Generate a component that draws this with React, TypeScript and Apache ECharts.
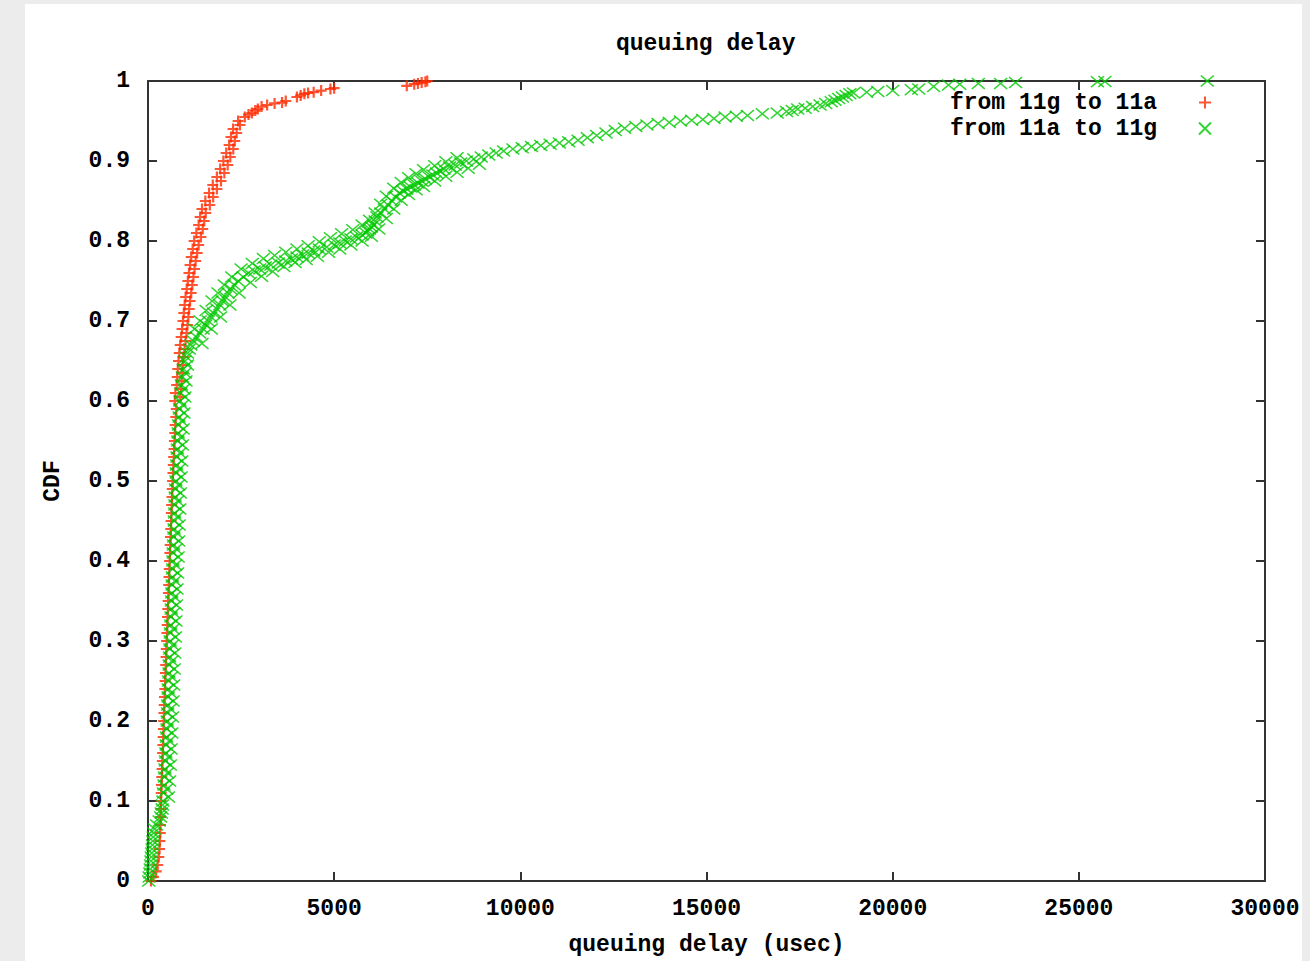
import React, { useEffect, useRef } from "react";
import * as echarts from "echarts";

const xTicks = [0, 5000, 10000, 15000, 20000, 25000, 30000];
const yTicks = [0, 0.1, 0.2, 0.3, 0.4, 0.5, 0.6, 0.7, 0.8, 0.9, 1];

const seriesNames = ["from 11g to 11a", "from 11a to 11g"];

// from 11g to 11a : lower steep part, queuing delay (usec) and CDF
const redDelayLow = [
  80, 150, 220, 260, 290, 310, 320, 330, 335, 340, 345, 350, 355, 362, 370, 378, 385, 392, 400, 407,
  414, 420, 428, 436, 444, 452, 460, 468, 476, 484, 492, 500, 508, 516, 524, 532, 540, 548, 556, 564,
  572, 580, 588, 596, 604, 612, 620, 628, 636, 644, 652, 660, 670, 680, 690, 700, 710, 720, 730, 745,
  760,
];
const redCdfLow = [
  0, 0.005, 0.012, 0.02, 0.03, 0.04, 0.05, 0.06, 0.07, 0.08, 0.09, 0.1, 0.11, 0.12, 0.13, 0.14, 0.15, 0.16, 0.17, 0.18,
  0.19, 0.2, 0.21, 0.22, 0.23, 0.24, 0.25, 0.26, 0.27, 0.28, 0.29, 0.3, 0.31, 0.32, 0.33, 0.34, 0.35, 0.36, 0.37, 0.38,
  0.39, 0.4, 0.41, 0.42, 0.43, 0.44, 0.45, 0.46, 0.47, 0.48, 0.49, 0.5, 0.51, 0.52, 0.53, 0.54, 0.55, 0.56, 0.57, 0.58,
  0.59,
];
// from 11g to 11a : upper band, left column
const redDelayUpA = [
  720, 735, 770, 785, 800, 820, 840, 865, 890, 915, 940, 962, 985, 1010, 1040, 1070, 1100, 1130, 1160, 1200,
  1240, 1300, 1360, 1400, 1450, 1540, 1640, 1740, 1850, 1940, 2025, 2100, 2180, 2230, 2285, 2420,
];
const redCdfUpA = [
  0.6, 0.61, 0.62, 0.63, 0.64, 0.65, 0.66, 0.67, 0.68, 0.69, 0.7, 0.71, 0.72, 0.73, 0.74, 0.75, 0.76, 0.77, 0.78, 0.79,
  0.8, 0.81, 0.82, 0.83, 0.84, 0.85, 0.86, 0.87, 0.88, 0.89, 0.9, 0.91, 0.92, 0.93, 0.94, 0.95,
];
// from 11g to 11a : upper band, right column
const redDelayUpB = [
  870, 885, 905, 920, 935, 950, 985, 1010, 1035, 1060, 1085, 1105, 1130, 1160, 1190, 1220, 1250, 1280, 1320, 1360,
  1420, 1470, 1510, 1550, 1660, 1750, 1850, 1960, 2050, 2140, 2210, 2290, 2330, 2380, 2470,
];
const redCdfUpB = [
  0.605, 0.615, 0.625, 0.635, 0.645, 0.655, 0.665, 0.675, 0.685, 0.695, 0.705, 0.715, 0.725, 0.735, 0.745, 0.755, 0.765, 0.775, 0.785, 0.795,
  0.805, 0.815, 0.825, 0.835, 0.845, 0.855, 0.865, 0.875, 0.885, 0.895, 0.905, 0.915, 0.925, 0.935, 0.945,
];
// from 11g to 11a : tail
const redDelayTail = [
  2600, 2700, 2790, 2880, 2950, 3050, 3200, 3400, 3600, 3700, 4000, 4100, 4200, 4300, 4450, 4650, 4900, 5000, 6950, 7150,
  7250, 7350, 7450, 7500,
];
const redCdfTail = [
  0.955, 0.958, 0.96, 0.963, 0.965, 0.968, 0.97, 0.972, 0.973, 0.975, 0.98, 0.982, 0.984, 0.985, 0.986, 0.988, 0.99, 0.991, 0.994, 0.996,
  0.997, 0.998, 0.999, 1.0,
];

// from 11a to 11g : queuing delay (usec) and CDF (main run of the band)
const greenDelay = [
  20, 30, 50, 60, 70, 80, 90, 100, 110, 120, 130, 140, 150, 180, 230, 300, 340, 360, 380, 390,
  400, 415, 430, 445, 455, 470, 480, 490, 500, 510, 515, 525, 530, 540, 545, 555, 565, 570, 580, 588,
  595, 603, 610, 618, 625, 633, 640, 648, 655, 663, 670, 678, 685, 693, 700, 708, 715, 723, 730, 740,
  750, 760, 770, 780, 790, 800, 810, 822, 835, 848, 860, 880, 900, 925, 950, 990, 1030, 1060, 1110, 1150,
  1220, 1300, 1390, 1480, 1550, 1620, 1690, 1760, 1850, 1930, 2000, 2080, 2150, 2220, 2320, 2420, 2560, 2700, 2850, 3000,
  3150, 3300, 3500, 3700, 3850, 4000, 4150, 4300, 4450, 4600, 4800, 5000, 5150, 5300, 5450, 5600, 5750, 5850, 5900, 5950,
  6000, 6050, 6100, 6150, 6250, 6350, 6450, 6550, 6650, 6750, 6850, 6950, 7050, 7150, 7250, 7350, 7450, 7550, 7650, 7750,
  7850, 7950, 8100, 8250, 8400, 8550, 8750, 8950, 9150, 9350, 9550, 9800, 10050, 10300, 10550, 10800, 11050, 11300, 11550, 11800,
  12050, 12300, 12550, 12800, 13100, 13400, 13700, 14000, 14300, 14600, 14900, 15200, 15500, 15800, 16100, 16500, 16900, 17150, 17300, 17450,
  17650, 17850, 18050, 18200, 18350, 18450, 18550, 18650, 18750, 18850, 18950, 19300, 19600, 20000, 20500, 20700, 21100, 21500, 21800, 22300,
  22900, 23300, 25500, 25700, 28450,
];
const greenCdf = [
  0, 0.005, 0.01, 0.015, 0.02, 0.025, 0.03, 0.035, 0.04, 0.045, 0.05, 0.055, 0.06, 0.065, 0.07, 0.075, 0.08, 0.085, 0.09, 0.095,
  0.1, 0.11, 0.12, 0.13, 0.14, 0.15, 0.16, 0.17, 0.18, 0.19, 0.2, 0.21, 0.22, 0.23, 0.24, 0.25, 0.26, 0.27, 0.28, 0.29,
  0.3, 0.31, 0.32, 0.33, 0.34, 0.35, 0.36, 0.37, 0.38, 0.39, 0.4, 0.41, 0.42, 0.43, 0.44, 0.45, 0.46, 0.47, 0.48, 0.49,
  0.5, 0.51, 0.52, 0.53, 0.54, 0.55, 0.56, 0.57, 0.58, 0.59, 0.6, 0.61, 0.62, 0.63, 0.64, 0.65, 0.655, 0.66, 0.665, 0.67,
  0.675, 0.68, 0.685, 0.69, 0.695, 0.7, 0.705, 0.71, 0.715, 0.72, 0.725, 0.73, 0.735, 0.74, 0.745, 0.75, 0.755, 0.76, 0.7625, 0.765,
  0.7675, 0.77, 0.7725, 0.775, 0.7775, 0.78, 0.7825, 0.785, 0.7875, 0.79, 0.7925, 0.795, 0.7975, 0.8, 0.8025, 0.805, 0.8075, 0.81, 0.8125, 0.815,
  0.8175, 0.82, 0.825, 0.83, 0.835, 0.84, 0.845, 0.85, 0.855, 0.86, 0.8625, 0.865, 0.8675, 0.87, 0.8725, 0.875, 0.8775, 0.88, 0.8825, 0.885,
  0.8875, 0.89, 0.8925, 0.895, 0.8975, 0.9, 0.9025, 0.905, 0.9075, 0.91, 0.9125, 0.915, 0.9165, 0.918, 0.9195, 0.921, 0.9225, 0.924, 0.926, 0.929,
  0.932, 0.935, 0.938, 0.941, 0.943, 0.945, 0.947, 0.948, 0.95, 0.951, 0.952, 0.953, 0.955, 0.956, 0.957, 0.959, 0.96, 0.962, 0.963, 0.965,
  0.966, 0.968, 0.97, 0.972, 0.974, 0.976, 0.978, 0.98, 0.982, 0.984, 0.985, 0.986, 0.987, 0.988, 0.989, 0.99, 0.993, 0.995, 0.996, 0.997,
  0.997, 0.998, 0.999, 0.9995, 1.0,
];
// from 11a to 11g : extra markers on the edges of the thick band
const greenDelayB = [
  550, 580, 600, 620, 640, 660, 675, 690, 705, 720, 735, 750, 765, 780, 795, 810, 825, 840, 855, 870,
  890, 905, 925, 945, 965, 990, 1020, 1060,
  500, 525, 550, 570, 590, 600, 615, 630, 645, 665, 680, 695, 710, 725, 740, 755, 770, 785, 800, 820,
  840, 860, 880, 905, 935, 965, 1000,
  1250, 1400, 1560, 1720, 1880, 2050, 2250, 2500, 2800, 3100, 3400, 3700, 4000, 4300, 4600, 4900, 5200, 5500,
  5750, 5950, 6100, 6250, 6400, 6600, 6800, 7000, 7200, 7400, 7700, 8000, 8300,
  1450, 1700, 1950, 2200, 2450, 2750, 3050, 3350, 3650, 3950, 4250, 4550, 4850, 5150, 5450, 5750, 6000, 6200,
  6400, 6600, 6800, 7000, 7200, 7400, 7700, 8000, 8300, 8600, 8900,
];
const greenCdfB = [
  0.105, 0.125, 0.145, 0.165, 0.185, 0.205, 0.225, 0.245, 0.265, 0.285, 0.305, 0.325, 0.345, 0.365, 0.385, 0.405, 0.425, 0.445, 0.465, 0.485,
  0.505, 0.525, 0.545, 0.565, 0.585, 0.605, 0.625, 0.645,
  0.115, 0.135, 0.155, 0.175, 0.195, 0.215, 0.235, 0.255, 0.275, 0.295, 0.315, 0.335, 0.355, 0.375, 0.395, 0.415, 0.435, 0.455, 0.475, 0.495,
  0.515, 0.535, 0.555, 0.575, 0.595, 0.615, 0.635,
  0.69, 0.7, 0.713, 0.725, 0.735, 0.745, 0.755, 0.765, 0.772, 0.778, 0.782, 0.786, 0.79, 0.794, 0.799, 0.804, 0.809, 0.814,
  0.82, 0.826, 0.835, 0.846, 0.856, 0.866, 0.873, 0.879, 0.884, 0.889, 0.894, 0.899, 0.904,
  0.672, 0.69, 0.705, 0.72, 0.735, 0.748, 0.756, 0.762, 0.768, 0.773, 0.777, 0.781, 0.786, 0.79, 0.795, 0.8, 0.806, 0.815,
  0.828, 0.84, 0.851, 0.858, 0.864, 0.868, 0.875, 0.881, 0.886, 0.891, 0.896,
];

const RED = "#ff2a00";
const GREEN = "#00c800";
const AXIS = "#333333";
const FONT = "'Liberation Mono', 'DejaVu Sans Mono', monospace";

const pairs = (xs: number[], ys: number[]) => xs.map((x, i) => [x, ys[i]]);

export default function App() {
  const ref = useRef<HTMLDivElement>(null);

  useEffect(() => {
    if (!ref.current) return;
    document.body.style.margin = "0";
    document.body.style.background = "#ececec";
    const chart = echarts.init(ref.current, undefined, { renderer: "svg" });

    const redData = [
      ...pairs(redDelayLow, redCdfLow),
      ...pairs(redDelayUpA, redCdfUpA),
      ...pairs(redDelayUpB, redCdfUpB),
      ...pairs(redDelayTail, redCdfTail),
    ];
    const greenData = [...pairs(greenDelay, greenCdf), ...pairs(greenDelayB, greenCdfB)];

    const textStyle = { fontFamily: FONT, fontWeight: "bold" as const, fontSize: 23, color: "#000" };

    const baseX = {
      type: "value" as const,
      min: xTicks[0],
      max: xTicks[xTicks.length - 1],
      interval: xTicks[1] - xTicks[0],
      splitLine: { show: false },
      axisLine: { show: true, onZero: false, lineStyle: { color: AXIS, width: 2 } },
      axisTick: { show: true, inside: true, length: 9, lineStyle: { color: AXIS, width: 2 } },
    };
    const baseY = {
      type: "value" as const,
      min: yTicks[0],
      max: yTicks[yTicks.length - 1],
      interval: 0.1,
      splitLine: { show: false },
      axisLine: { show: true, onZero: false, lineStyle: { color: AXIS, width: 2 } },
      axisTick: { show: true, inside: true, length: 9, lineStyle: { color: AXIS, width: 2 } },
    };

    chart.setOption({
      animation: false,
      backgroundColor: "#ececec",
      graphic: [
        {
          type: "rect",
          z: -10,
          shape: { x: 25, y: 4, width: 1277, height: 970 },
          style: { fill: "#ffffff" },
        },
      ],
      title: {
        text: "queuing delay",
        left: 616,
        top: 32,
        padding: 0,
        textStyle: { ...textStyle },
      },
      legend: {
        orient: "vertical",
        right: 93,
        top: 86,
        align: "right",
        itemWidth: 86,
        itemHeight: 12,
        itemGap: 3,
        selectedMode: false,
        textStyle: { ...textStyle },
        data: seriesNames,
      },
      grid: { left: 148, top: 81, width: 1117, height: 804, containLabel: false },
      xAxis: [
        {
          ...baseX,
          position: "bottom",
          name: "queuing delay (usec)",
          nameLocation: "middle",
          nameGap: 52,
          nameTextStyle: { ...textStyle },
          axisLabel: { ...textStyle, margin: 16, formatter: (v: number) => String(v) },
        },
        { ...baseX, position: "top", axisLabel: { show: false } },
      ],
      yAxis: [
        {
          ...baseY,
          position: "left",
          name: "CDF",
          nameLocation: "middle",
          nameRotate: 90,
          nameGap: 84,
          nameTextStyle: { ...textStyle },
          axisLabel: {
            ...textStyle,
            margin: 18,
            formatter: (v: number) => {
              const r = Math.round(v * 10) / 10;
              return r === 0 || r === 1 ? String(r) : r.toFixed(1);
            },
          },
        },
        { ...baseY, position: "right", axisLabel: { show: false } },
      ],
      series: [
        {
          name: seriesNames[0],
          type: "scatter",
          xAxisIndex: 0,
          yAxisIndex: 0,
          symbol: "path://M0,5L10,5M5,0L5,10",
          symbolSize: 11,
          itemStyle: { color: RED, borderColor: RED, borderWidth: 2.2 },
          data: redData,
        },
        {
          name: seriesNames[1],
          type: "scatter",
          xAxisIndex: 0,
          yAxisIndex: 0,
          symbol: "path://M0,0L10,10M10,0L0,10",
          symbolSize: [13, 11],
          itemStyle: { color: GREEN, borderColor: GREEN, borderWidth: 1.5 },
          data: greenData,
        },
      ],
    });

    return () => chart.dispose();
  }, []);

  return (
    <div
      ref={ref}
      style={{ position: "fixed", left: 0, top: 0, width: 1310, height: 961 }}
    />
  );
}
